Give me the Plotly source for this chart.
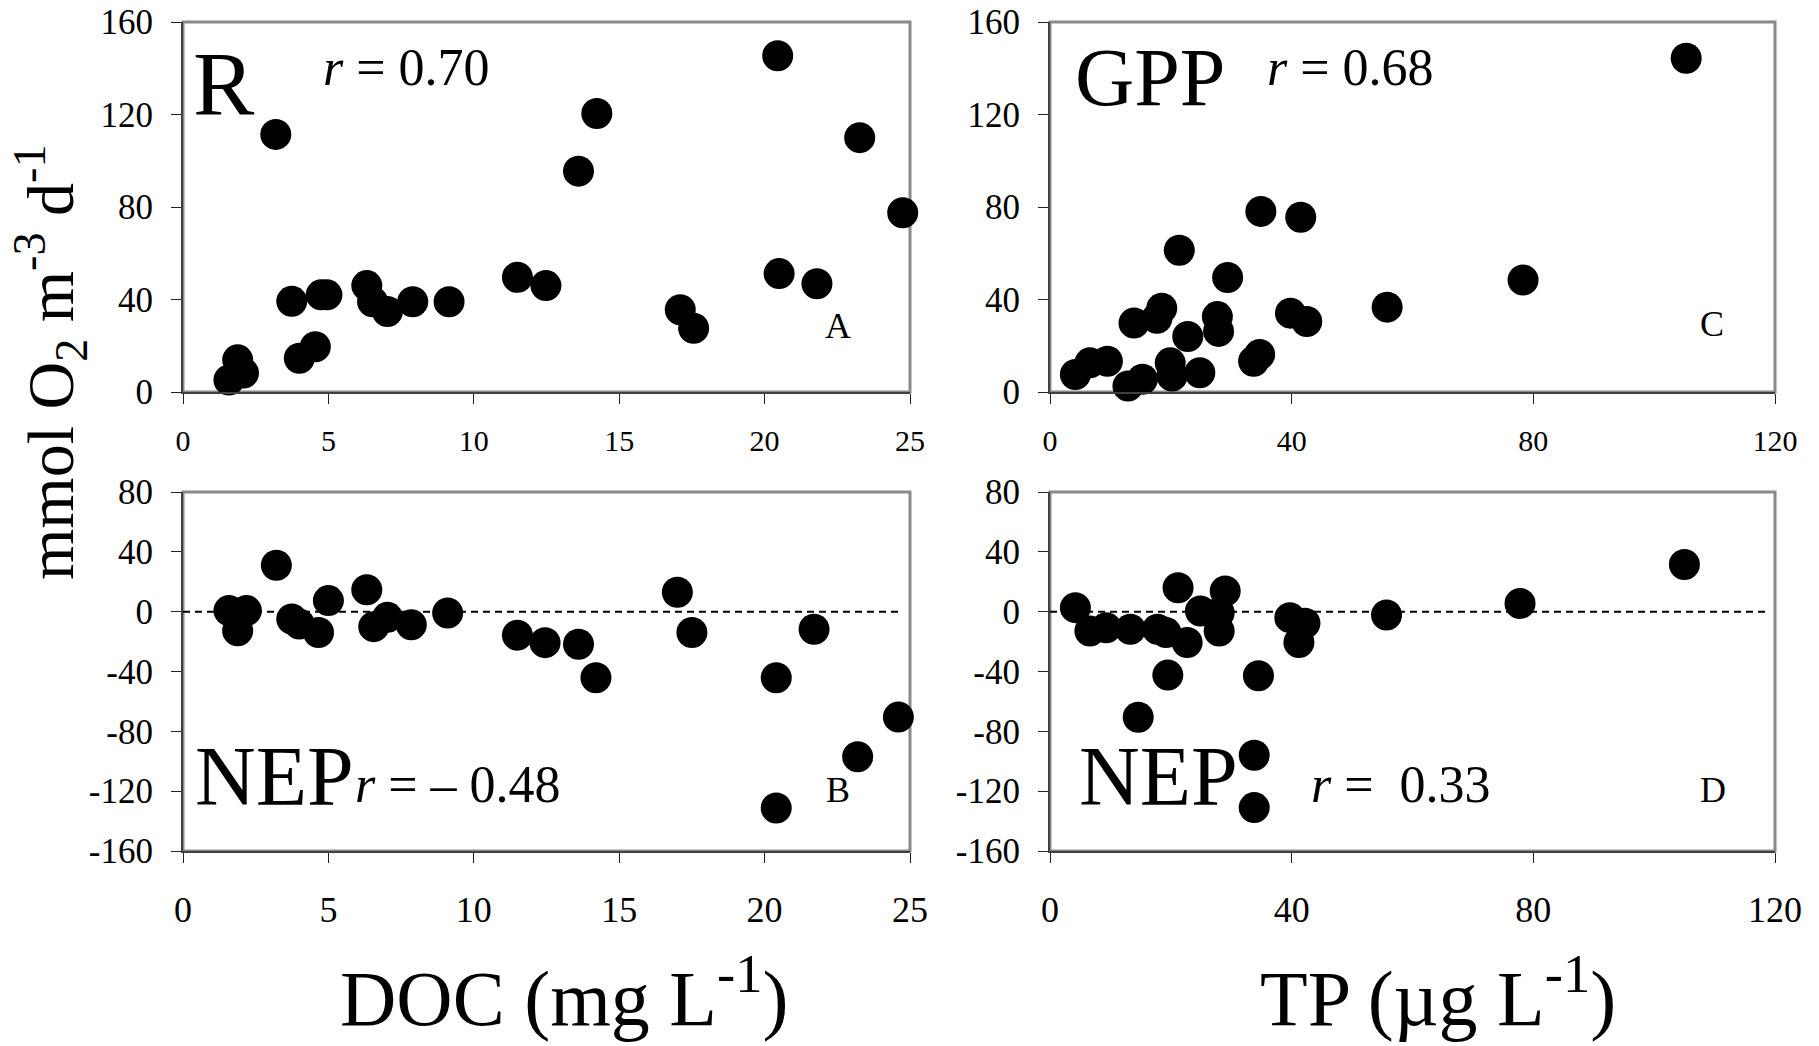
import plotly.graph_objects as go

# ---- data ----
doc_R = [1.58, 1.88, 2.08, 3.19, 3.74, 4.0, 4.55, 4.75, 4.95, 6.32, 6.52, 7.03, 7.9, 9.15,
         11.5, 12.48, 13.6, 14.23, 17.1, 17.56, 20.45, 20.5, 21.8, 23.27, 24.75]
R_vals = [5.2, 13.9, 8.2, 111.4, 39.2, 14.6, 19.6, 42, 42, 46, 39, 34.8, 39, 39,
          49.6, 46, 95.5, 120.4, 35.6, 27.6, 145.4, 51.2, 46.8, 110, 77.5]

tp_GPP = [4.2, 6.6, 9.5, 12.9, 13.9, 15.3, 17.7, 18.5, 19.9, 20.2, 21.4, 22.8, 24.8,
          27.7, 27.9, 29.4, 33.7, 34.7, 34.9, 39.8, 41.5, 42.5, 55.8, 78.3, 105.3]
GPP_vals = [7.6, 12.6, 13.3, 2.6, 29.8, 5.5, 31.9, 36.2, 12.6, 6.9, 61.3, 24, 8.3,
            32.6, 26.2, 49.5, 13.3, 16.2, 78.1, 34.1, 75.6, 30.5, 36.7, 48.4, 144.3]

doc_NEP = [1.58, 1.88, 2.18, 3.21, 3.74, 4.0, 4.66, 5.0, 6.32, 6.56, 7.03, 7.85, 9.1,
           11.5, 12.45, 13.6, 14.2, 17.0, 17.5, 20.4, 20.4, 21.7, 23.2, 24.6]
NEP_doc_vals = [0.7, -12.8, 0.7, 31, -4.9, -8.3, -13.9, 7.4, 14.6, -10, -3.8, -8.8, -0.9,
                -15.7, -20.7, -21.8, -44.2, 13, -13.9, -44.2, -131.3, -11.7, -97, -70.5]

tp_NEP = [4.2, 6.6, 9.3, 13.3, 14.6, 17.8, 19.2, 19.5, 21.2, 22.7, 24.9, 28.0, 28.0,
          29.0, 33.8, 33.8, 34.5, 39.7, 41.2, 42.2, 55.7, 77.8, 105.0]
NEP_tp_vals = [2.7, -12.9, -10.7, -11.8, -70.6, -11.8, -14, -42.4, 16, -20.6, 0.4, -12.9, -0.7,
               13.8, -96, -131, -42.8, -4, -20.6, -7.8, -2.2, 5.5, 31.5]

doc_ticks = [0, 5, 10, 15, 20, 25]
tp_ticks = [0, 40, 80, 120]
top_y_ticks = [0, 40, 80, 120, 160]
bot_y_ticks = [-160, -120, -80, -40, 0, 40, 80]

# ---- layout helpers ----
W, H = 1819, 1046
FONT = "Liberation Serif, Times New Roman, serif"


def px(x):
    return x / W


def py(y):
    return 1 - y / H


fig = go.Figure()

marker = dict(color="black", size=31, symbol="circle", line=dict(width=0))
panels = [
    (doc_R, R_vals, "x", "y"),
    (tp_GPP, GPP_vals, "x2", "y2"),
    (doc_NEP, NEP_doc_vals, "x3", "y3"),
    (tp_NEP, NEP_tp_vals, "x4", "y4"),
]
for xs, ys, xa, ya in panels:
    fig.add_trace(go.Scatter(x=xs, y=ys, mode="markers", marker=marker,
                             xaxis=xa, yaxis=ya, cliponaxis=False,
                             showlegend=False, hoverinfo="x+y"))

dom_left = [px(183), px(910)]
dom_right = [px(1050), px(1775)]
dom_top = [py(392), py(22)]
dom_bot = [py(851), py(492)]


def xaxis(domain, rng, ticks, anchor, fsize, standoff):
    return dict(domain=domain, range=rng, anchor=anchor, tickvals=ticks,
                ticktext=[str(t) for t in ticks], automargin=False,
                showgrid=False, zeroline=False, showline=True, linecolor="#404040",
                linewidth=2, ticks="outside", ticklen=10, tickwidth=1.2, tickcolor="#222",
                tickfont=dict(family=FONT, size=fsize, color="black"),
                ticklabelstandoff=standoff, fixedrange=True)


def yaxis(domain, rng, ticks, anchor):
    return dict(domain=domain, range=rng, anchor=anchor, tickvals=ticks,
                ticktext=[str(t) for t in ticks], automargin=False,
                showgrid=False, zeroline=False, showline=True, linecolor="#404040",
                linewidth=2, ticks="outside", ticklen=10, tickwidth=1.2, tickcolor="#222",
                tickfont=dict(family=FONT, size=35, color="black"),
                ticklabelstandoff=11, fixedrange=True)


fig.update_layout(
    width=W, height=H,
    margin=dict(l=0, r=0, t=0, b=0, pad=0, autoexpand=False),
    paper_bgcolor="white", plot_bgcolor="white",
    xaxis=xaxis(dom_left, [0, 25], doc_ticks, "y", 30, 11),
    yaxis=yaxis(dom_top, [0, 160], top_y_ticks, "x"),
    xaxis2=xaxis(dom_right, [0, 120], tp_ticks, "y2", 30, 11),
    yaxis2=yaxis(dom_top, [0, 160], top_y_ticks, "x2"),
    xaxis3=xaxis(dom_left, [0, 25], doc_ticks, "y3", 36, 16),
    yaxis3=yaxis(dom_bot, [-160, 80], bot_y_ticks, "x3"),
    xaxis4=xaxis(dom_right, [0, 120], tp_ticks, "y4", 36, 16),
    yaxis4=yaxis(dom_bot, [-160, 80], bot_y_ticks, "x4"),
)

# plot-area borders (grey frame) and zero reference lines
for s in ["", "2", "3", "4"]:
    fig.add_shape(type="rect", xref=f"x{s} domain", yref=f"y{s} domain",
                  x0=0, x1=1, y0=0, y1=1, line=dict(color="#8a8a8a", width=3),
                  layer="below")
for s in ["3", "4"]:
    fig.add_shape(type="line", xref=f"x{s} domain", yref=f"y{s}",
                  x0=0, x1=0.99, y0=0, y1=0,
                  line=dict(color="black", width=2, dash="7px,5px"), layer="below")


def ann(text, x, y, size, angle=0):
    fig.add_annotation(text=text, x=px(x), y=py(y), xref="paper", yref="paper",
                       showarrow=False, xanchor="center", yanchor="middle",
                       textangle=angle,
                       font=dict(family=FONT, size=size, color="black"))


ann("R", 224, 84, 92)
ann("<i>r</i> = 0.70", 406, 68, 52)
ann("GPP", 1150, 77, 82)
ann("<i>r</i> = 0.68", 1350, 68, 52)
ann("A", 838, 326, 36)
ann("C", 1712, 324, 36)
ann("NEP", 274, 776, 84)
ann("<i>r</i> = – 0.48", 458, 784, 52)
ann("B", 838, 790, 36)
ann("NEP", 1158, 776, 84)
ann("<i>r</i> =  0.33", 1401, 784, 52)
ann("D", 1713, 790, 36)
ann("mmol O<sub>2</sub> m<sup>-3</sup> d<sup>-1</sup>", 50, 362, 66, angle=-90)
ann("DOC (mg L<sup>-1</sup>)", 564, 992, 78)
ann("TP (µg L<sup>-1</sup>)", 1438, 992, 78)

fig.write_html("out.html")
